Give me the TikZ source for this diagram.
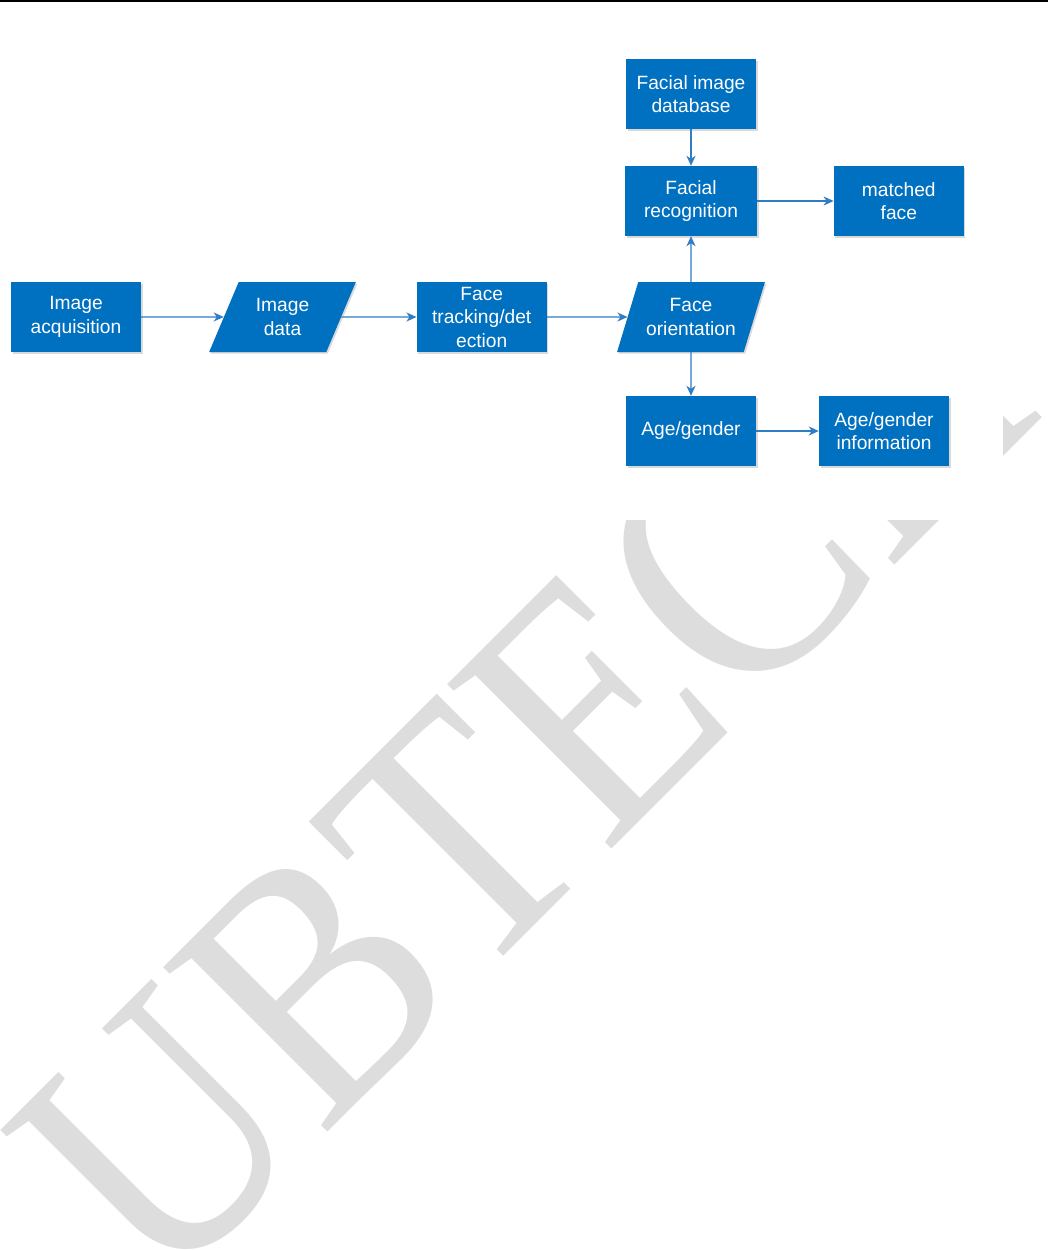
\documentclass[tikz,border=0pt]{standalone}
\usepackage{fontspec}
\setmainfont{Liberation Sans}
\newfontfamily\wmfont{Liberation Serif}
\usetikzlibrary{arrows.meta,shadows,shapes.geometric}
\definecolor{boxblue}{HTML}{0070C0}
\definecolor{arrowblue}{HTML}{2F7DC4}
\definecolor{wmgray}{RGB}{221,221,221}
\begin{document}
\begin{tikzpicture}[x=1pt,y=-1pt,
  shade box/.style={drop shadow={shadow xshift=1.5pt,shadow yshift=-1.5pt,fill=black!15,opacity=1}},
  blk/.style={shade box,fill=boxblue,text=white,align=center,inner sep=0pt,
    font=\fontsize{19.2}{23.5}\selectfont,minimum width=130pt,minimum height=70pt},
  para/.style={shade box,trapezium,trapezium left angle=64,trapezium right angle=116,
    trapezium stretches=true,fill=boxblue,text=white,align=center,inner sep=0pt,
    font=\fontsize{19.2}{23.5}\selectfont,minimum width=148pt,minimum height=70pt},
  arr/.style={draw=arrowblue,line width=1.3pt,-{Stealth[length=10pt,width=9pt,inset=3pt]}},
  wm/.style={text=wmgray,inner sep=0pt,rotate=45,anchor=base,
    font=\wmfont\fontsize{355}{355}\selectfont}]
\useasboundingbox (0,0) rectangle (1053,1250);
\clip (0,0) rectangle (1053,1250);
% watermark
\node[wm] (wmark) at (605,855) {\scalebox{0.885}[1]{UBTECH}};
\fill[white] (0,0) rectangle (1003,520);
% top rule
\draw[line width=1.5pt] (0,0.75) -- (1048,0.75);
% nodes
\node[blk] (acq) at (76,317) {Image\\acquisition};
\node[para] (imgdata) at (282.5,317) {Image\\data};
\node[blk] (track) at (481.7,317) {Face\\tracking/det\\ection};
\node[para] (orient) at (691,317) {Face\\orientation};
\node[blk] (facedb) at (691,94) {Facial image\\database};
\node[blk,minimum width=132pt] (recog) at (691,201) {Facial\\recognition};
\node[blk] (matched) at (898.8,201) {matched\\face};
\node[blk] (age) at (691,431) {Age/gender};
\node[blk] (ageinfo) at (884,431) {Age/gender\\information};
% connectors
\draw[arr] (acq.east) -- (imgdata.west);
\draw[arr] (imgdata.east) -- (track.west);
\draw[arr] (track.east) -- (orient.west);
\draw[arr] (orient.north) -- (recog.south);
\draw[arr] (facedb.south) -- (recog.north);
\draw[arr] (recog.east) -- (matched.west);
\draw[arr] (orient.south) -- (age.north);
\draw[arr] (age.east) -- (ageinfo.west);
\end{tikzpicture}
\end{document}
